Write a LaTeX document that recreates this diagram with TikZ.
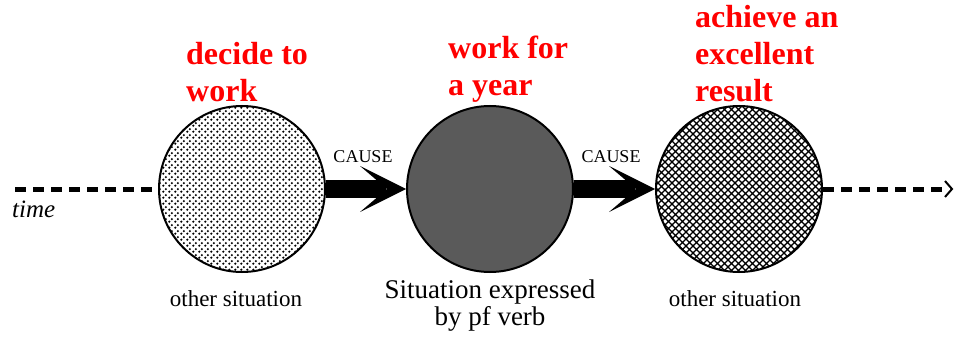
\documentclass[tikz,border=0pt]{standalone}
\usepackage{fontspec}
\setmainfont{Liberation Serif}
\newfontfamily\tnr{Liberation Serif}
\newfontfamily\tnrb{Liberation Serif Bold}
\usetikzlibrary{patterns,calc}
\pgfdeclarepatternformonly{mydots}{\pgfpoint{0pt}{0pt}}{\pgfpoint{6pt}{6pt}}{\pgfpoint{6pt}{6pt}}{%
  \pgfpathcircle{\pgfpoint{1.5pt}{1.5pt}}{1.4pt}%
  \pgfpathcircle{\pgfpoint{4.5pt}{4.5pt}}{1.4pt}%
  \pgfusepath{fill}}
\pgfdeclarepatternformonly{myhatch}{\pgfpoint{-1pt}{-1pt}}{\pgfpoint{8pt}{8pt}}{\pgfpoint{7pt}{7pt}}{%
  \pgfsetlinewidth{1.2pt}%
  \pgfpathmoveto{\pgfpoint{-1pt}{-1pt}}\pgfpathlineto{\pgfpoint{8pt}{8pt}}%
  \pgfpathmoveto{\pgfpoint{-1pt}{8pt}}\pgfpathlineto{\pgfpoint{8pt}{-1pt}}%
  \pgfusepath{stroke}}
\definecolor{midgray}{RGB}{90,90,90}
\tikzset{
  sit/.style={circle, draw=black, line width=2pt, minimum size=166pt, inner sep=0pt},
  redlbl/.style={text=red, font=\tnrb\fontsize{32}{37}\selectfont, align=left, anchor=north west, inner sep=0pt},
  causelbl/.style={font=\tnr\fontsize{18}{20}\selectfont, anchor=base, inner sep=0pt},
  sitlbl/.style={font=\tnr\fontsize{23}{26}\selectfont, anchor=base, inner sep=0pt},
  timeline/.style={line width=5pt, dash pattern=on 11pt off 7pt},
  shaft/.style={line width=18pt},
  headfill/.style={fill=black}
}
\begin{document}
\begin{tikzpicture}[x=1pt,y=-1pt]
\useasboundingbox (0,0) rectangle (956,337);
% circles
\node[sit, pattern=mydots] (c1) at (242,189) {};
\node[sit, fill=midgray] (c2) at (490,189) {};
\node[sit, pattern=myhatch] (c3) at (739,189) {};
% time line
\coordinate (tstart) at (15,189);
\coordinate (tend) at (952,189);
\draw[timeline] (tstart) -- (c1.west);
\draw[timeline] (c3.east) -- ($(tend)+(-4,0)$);
\draw[line width=2pt] ($(tend)+(-7,-8)$) -- (tend) -- ($(tend)+(-7,8)$);
% cause arrows
\draw[shaft] (c1.east) -- ($(c2.west)+(-20,0)$);
\fill[headfill] (c2.west) -- ++(-46,-23) -- ++(27,23) -- ++(-27,23) -- cycle;
\draw[shaft] (c2.east) -- ($(c3.west)+(-20,0)$);
\fill[headfill] (c3.west) -- ++(-46,-23) -- ++(27,23) -- ++(-27,23) -- cycle;
\node[causelbl] (k1) at (363,162) {CAUSE};
\node[causelbl] (k2) at (611,162) {CAUSE};
% red labels
\node[redlbl] (r1) at (186,42) {decide to\\work};
\node[redlbl] (r2) at (448,36) {work for\\a year};
\node[redlbl] (r3) at (695,5) {achieve an\\excellent\\result};
% lower labels
\node[font=\tnr\fontsize{25}{27}\selectfont\itshape, anchor=base west, inner sep=0pt] (tm) at (12,217) {time};
\node[sitlbl] (o1) at (236,306) {other situation};
\node[sitlbl] (o3) at (735,306) {other situation};
\node[font=\tnr\fontsize{27}{27}\selectfont, align=center, anchor=north, inner sep=0pt] (pf) at (490,279.6) {Situation expressed\\by pf verb};
\end{tikzpicture}
\end{document}
